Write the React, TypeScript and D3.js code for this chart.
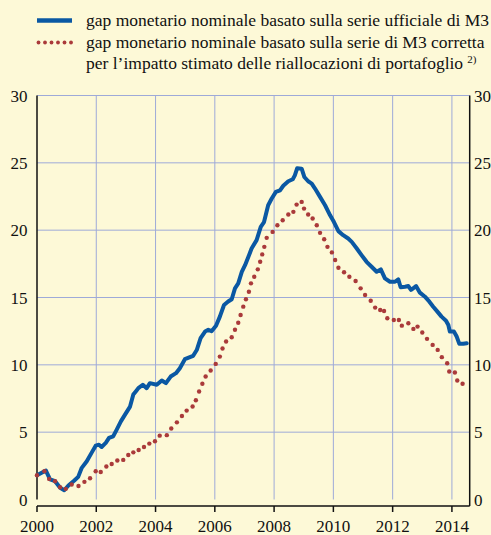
import React from "react";
import * as d3 from "d3";

// Official M3 series: decimal year, value
const blueDates = [
  2000.0, 2000.3, 2000.44, 2000.61, 2000.78, 2000.92, 2001.06, 2001.26, 2001.39, 2001.51, 2001.68, 2001.85, 2001.98,
  2002.09, 2002.18, 2002.32, 2002.43, 2002.57, 2002.69, 2002.83, 2002.97, 2003.14, 2003.25, 2003.36, 2003.42, 2003.57,
  2003.7, 2003.81, 2004.04, 2004.21, 2004.35, 2004.51, 2004.69, 2004.82, 2004.99, 2005.16, 2005.27, 2005.39, 2005.52,
  2005.67, 2005.78, 2005.89, 2006.04, 2006.17, 2006.31, 2006.45, 2006.57, 2006.68, 2006.79, 2006.91, 2007.02, 2007.13,
  2007.24, 2007.41, 2007.55, 2007.66, 2007.8, 2007.92, 2008.06, 2008.2, 2008.31, 2008.48, 2008.63, 2008.7, 2008.78,
  2008.93, 2009.02, 2009.15, 2009.27, 2009.38, 2009.55, 2009.72, 2009.89, 2010.02, 2010.17, 2010.33, 2010.5, 2010.62,
  2010.79, 2010.95, 2011.12, 2011.29, 2011.46, 2011.6, 2011.74, 2011.91, 2012.08, 2012.19, 2012.27, 2012.42, 2012.53,
  2012.62, 2012.79, 2012.92, 2013.09, 2013.24, 2013.37, 2013.51, 2013.65, 2013.8, 2013.88, 2013.93, 2014.07, 2014.16,
  2014.25, 2014.38, 2014.5,
];
const blueValues = [
  1.8, 2.15, 1.5, 1.36, 0.87, 0.69, 1.04, 1.41, 1.68, 2.35, 2.84, 3.5, 4.0,
  4.07, 3.9, 4.2, 4.57, 4.69, 5.19, 5.8, 6.3, 6.9, 7.8, 8.1, 8.27, 8.52,
  8.27, 8.64, 8.52, 8.84, 8.64, 9.13, 9.38, 9.75, 10.42, 10.57, 10.67, 11.1, 11.98,
  12.47, 12.6, 12.5, 12.9, 13.58, 14.44, 14.7, 14.87, 15.68, 16.05, 16.9, 17.4, 18.0,
  18.64, 19.26, 20.25, 20.6, 21.85, 22.35, 22.84, 22.96, 23.3, 23.63, 23.78, 24.07, 24.6,
  24.57, 23.95, 23.63, 23.46, 23.09, 22.47, 21.85, 21.1, 20.6, 19.93, 19.63, 19.38, 19.13,
  18.64, 18.15, 17.65, 17.28, 16.91, 17.09, 16.42, 16.17, 16.17, 16.35, 15.76, 15.8, 15.85,
  15.56, 15.85, 15.36, 15.06, 14.69, 14.32, 13.95, 13.58, 13.28, 12.96, 12.47, 12.47, 12.1,
  11.56, 11.56, 11.6,
];

// Adjusted M3 series: decimal year, value
const redDates = [
  2000.0, 2000.25, 2000.41, 2000.61, 2000.78, 2000.97, 2001.17, 2001.4, 2001.6, 2001.79, 2001.98, 2002.15, 2002.34,
  2002.52, 2002.71, 2002.91, 2003.08, 2003.25, 2003.43, 2003.61, 2003.79, 2003.98, 2004.14, 2004.38, 2004.53, 2004.72,
  2004.89, 2005.05, 2005.25, 2005.36, 2005.47, 2005.58, 2005.69, 2005.86, 2006.03, 2006.17, 2006.26, 2006.38, 2006.57,
  2006.68, 2006.79, 2006.87, 2006.96, 2007.05, 2007.15, 2007.22, 2007.33, 2007.45, 2007.53, 2007.6, 2007.67, 2007.75,
  2007.95, 2008.11, 2008.29, 2008.48, 2008.65, 2008.76, 2008.93, 2009.01, 2009.15, 2009.3, 2009.44, 2009.55, 2009.69,
  2009.8, 2009.95, 2010.06, 2010.17, 2010.36, 2010.54, 2010.75, 2010.92, 2011.07, 2011.26, 2011.41, 2011.58, 2011.71,
  2011.82, 2012.04, 2012.21, 2012.31, 2012.53, 2012.7, 2012.84, 2013.0, 2013.16, 2013.35, 2013.52, 2013.66, 2013.84,
  2013.91, 2014.1, 2014.18, 2014.36,
];
const redValues = [
  1.8, 2.1, 1.53, 1.36, 0.91, 0.79, 1.11, 1.0, 1.31, 1.58, 2.1, 2.04, 2.45,
  2.64, 2.9, 2.94, 3.3, 3.5, 3.68, 3.9, 4.15, 4.32, 4.74, 4.78, 5.27, 5.73,
  6.2, 6.6, 6.91, 7.37, 8.02, 8.59, 9.13, 9.58, 10.07, 10.61, 11.21, 11.73, 12.05,
  12.6, 13.13, 13.7, 14.32, 14.87, 15.43, 16.05, 16.54, 17.09, 17.65, 18.2, 18.76, 19.43,
  19.87, 20.37, 20.74, 21.16, 21.36, 21.9, 22.1, 21.6, 21.16, 20.87, 20.37, 19.8, 19.33,
  18.76, 18.35, 17.78, 17.21, 16.87, 16.54, 16.22, 15.68, 15.19, 14.76, 14.25, 14.07, 14.0,
  13.46, 13.33, 13.33, 12.91, 13.09, 12.67, 12.84, 12.4, 11.93, 11.48, 11.11, 10.57, 10.12,
  9.5, 9.43, 8.84, 8.59,
];

const xTicks = [2000, 2002, 2004, 2006, 2008, 2010, 2012, 2014];
const yTicks = [0, 5, 10, 15, 20, 25, 30];
const legendLabels = [
  "gap monetario nominale basato sulla serie ufficiale di M3",
  "gap monetario nominale basato sulla serie di M3 corretta",
  "per l\u2019impatto stimato delle riallocazioni di portafoglio",
];
const legendNote = "2)";

const W = 491;
const H = 535;
const FONT = "'Liberation Serif', 'DejaVu Serif', serif";
const BLUE = "#0a58a3";
const RED = "#aa3a3a";
const GRID = "#9eaad8";
const BG = "#fdf9d7";

export default function App() {
  const x = d3.scaleLinear().domain([2000, 2014.6]).range([37, 469.7]);
  const y = d3.scaleLinear().domain([0, 30]).range([499.5, 95.5]);
  const blue = blueDates.map((d, i) => [d, blueValues[i]] as [number, number]);
  const red = redDates.map((d, i) => [d, redValues[i]] as [number, number]);
  const line = d3
    .line<[number, number]>()
    .x((d) => x(d[0]))
    .y((d) => y(d[1]));
  const x0 = x(2000);
  const x1 = x(2014.6);
  const axisY = 506;
  const ts: React.CSSProperties = { fontFamily: FONT, fontSize: "17px" };
  const ls: React.CSSProperties = { fontFamily: FONT, fontSize: "17.5px" };

  return (
    <svg
      width={W}
      height={H}
      style={{ position: "absolute", left: 0, top: 0, display: "block", fontFamily: FONT }}
    >
      <rect x={0} y={0} width={W} height={H} fill={BG} />
      {/* legend */}
      <line x1={37} x2={72} y1={20.5} y2={20.5} stroke={BLUE} strokeWidth={4.5} />
      {[0, 1, 2, 3, 4, 5].map((i) => (
        <circle key={i} cx={38.5 + i * 6.5} cy={42.5} r={1.9} fill={RED} />
      ))}
      <text x={86} y={26} style={ls} fill="#111">
        {legendLabels[0]}
      </text>
      <text x={86} y={47.5} style={ls} fill="#111">
        {legendLabels[1]}
      </text>
      <text x={86} y={68.5} style={ls} fill="#111">
        {legendLabels[2]}
        <tspan dx={4} dy={-6} style={{ fontSize: "11px" }}>
          {legendNote}
        </tspan>
      </text>

      {/* grid */}
      {yTicks
        .filter((t) => t > 0)
        .map((t) => (
          <line key={"gy" + t} x1={x0} x2={x1} y1={y(t)} y2={y(t)} stroke={GRID} strokeWidth={1} />
        ))}
      {xTicks
        .filter((t) => t > 2000)
        .map((t) => (
          <line key={"gx" + t} x1={x(t)} x2={x(t)} y1={y(30)} y2={y(0)} stroke={GRID} strokeWidth={1} />
        ))}

      {/* axes */}
      <line x1={x0} x2={x0} y1={y(30)} y2={y(0)} stroke="#111" strokeWidth={1.5} />
      <line x1={x1} x2={x1} y1={y(30)} y2={axisY} stroke="#111" strokeWidth={1.5} />
      <line x1={x0} x2={x1} y1={axisY} y2={axisY} stroke="#111" strokeWidth={1.5} />
      {xTicks.map((t) => (
        <g key={"xt" + t}>
          <line x1={x(t)} x2={x(t)} y1={axisY} y2={axisY + 6} stroke="#111" strokeWidth={1.5} />
          <text x={x(t)} y={532} style={ts} textAnchor="middle" fill="#111">
            {t}
          </text>
        </g>
      ))}
      {yTicks.map((t) => (
        <g key={"yt" + t}>
          <text x={27.5} y={y(t) + 6} style={ts} textAnchor="end" fill="#111">
            {t}
          </text>
          <text x={474} y={y(t) + 6} style={ts} textAnchor="start" fill="#111">
            {t}
          </text>
        </g>
      ))}

      {/* series */}
      <path
        d={line(blue) || ""}
        fill="none"
        stroke={BLUE}
        strokeWidth={4}
        strokeLinejoin="round"
        strokeLinecap="round"
      />
      {red.map((d, i) => (
        <circle key={"r" + i} cx={x(d[0])} cy={y(d[1])} r={2.2} fill={RED} />
      ))}
    </svg>
  );
}
